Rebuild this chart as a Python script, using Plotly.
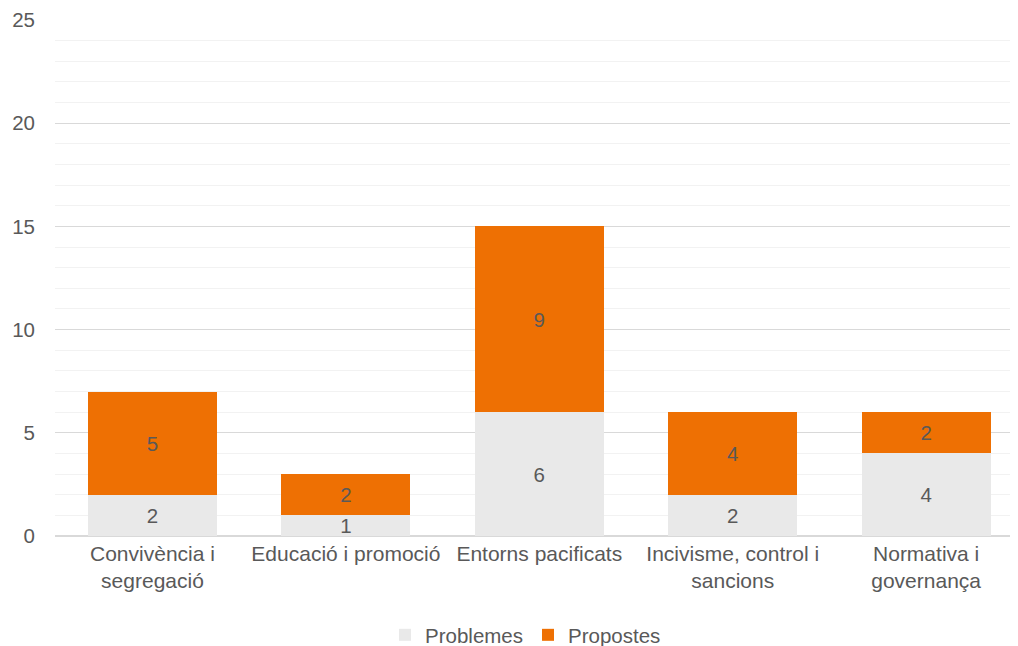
import plotly.graph_objects as go

categories = ["Convivència i<br>segregació", "Educació i promoció", "Entorns pacificats",
              "Incivisme, control i<br>sancions", "Normativa i<br>governança"]
problemes = [2, 1, 6, 2, 4]
propostes = [5, 2, 9, 4, 2]

font = "Liberation Sans, Arial, sans-serif"
txt = "#595959"
fs = 20.5

# the page body has an 8px default margin; compensate so the plot lands where the reference has it
W, H = 1010, 638

fig = go.Figure()
fig.add_trace(go.Bar(name="Problemes", x=categories, y=problemes, marker_color="#e9e9e9",
                     text=problemes, textposition="inside", insidetextanchor="middle",
                     textangle=0, constraintext="none",
                     textfont=dict(size=fs, color=txt, family=font), marker_line_width=0))
fig.add_trace(go.Bar(name="Propostes", x=categories, y=propostes, marker_color="#ee7003",
                     text=propostes, textposition="inside", insidetextanchor="middle",
                     textangle=0, constraintext="none",
                     textfont=dict(size=fs, color=txt, family=font), marker_line_width=0))

fig.update_layout(
    barmode="stack", bargap=0.333,
    width=W, height=H,
    margin=dict(l=47, r=0, t=12, b=110, autoexpand=False),
    plot_bgcolor="white", paper_bgcolor="white",
    font=dict(family=font, size=fs, color=txt),
    legend=dict(orientation="h", x=0.4886, xanchor="center", yref="container", y=11 / H, yanchor="middle",
                font=dict(size=fs, color=txt), itemsizing="constant", traceorder="normal",
                itemwidth=30, tracegroupgap=0),
    uniformtext=dict(mode="show", minsize=fs),
)
fig.update_yaxes(range=[0, 25], dtick=5, showgrid=True, gridcolor="#d9d9d9", gridwidth=1,
                 zeroline=True, zerolinecolor="#d9d9d9", zerolinewidth=2,
                 tickfont=dict(size=fs, color=txt), ticks="", ticklabelstandoff=19, automargin=False,
                 minor=dict(dtick=1, showgrid=True, gridcolor="#f2f2f2", gridwidth=1))
fig.update_xaxes(showgrid=False, tickfont=dict(size=21, color=txt), ticks="", showline=False,
                 automargin=False, ticklabelstandoff=3, range=[-0.504, 4.475])

fig.write_html("out.html")
